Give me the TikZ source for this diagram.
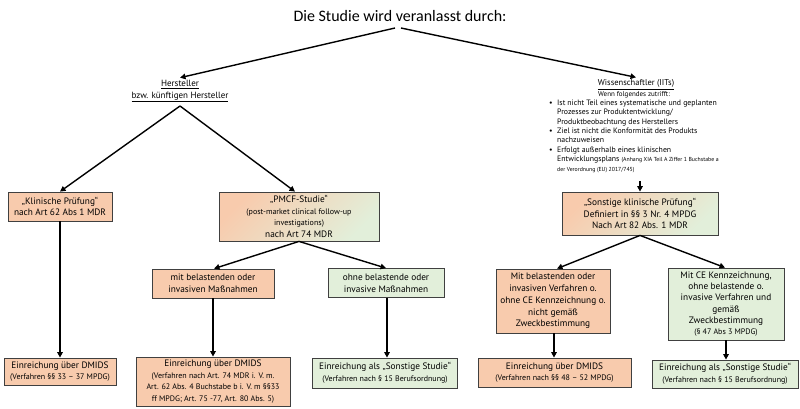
\documentclass[tikz,border=0pt]{standalone}
\usepackage{fontspec}
\setmainfont{PT Sans}
\newfontfamily\titlefont{Carlito}
\usetikzlibrary{arrows.meta,calc}
\definecolor{orF}{HTML}{F8CBAD}
\definecolor{grF}{HTML}{E2EFDA}
\definecolor{bdr}{HTML}{404040}
\newcommand\smtxt{\fontsize{8}{10.2}\selectfont}
\newcommand\smtxtb{\fontsize{8}{9.4}\selectfont}
\newcommand\tinytxt{\fontsize{5.8}{9.4}\selectfont}
\begin{document}
\begin{tikzpicture}[x=1pt,y=-1pt,
  box/.style={draw=bdr, line width=0.8pt, align=center, inner sep=0pt,
    font=\fontsize{9.3}{11.8}\selectfont},
  obox/.style={box, fill=orF},
  gbox/.style={box, fill=grF},
  mbox/.style={box, top color=orF, bottom color=grF, shading angle=45},
  arr/.style={line width=1.4pt, -{Triangle[length=5.5pt,width=5.5pt]}},
]
\useasboundingbox (0,0) rectangle (800,408);

% title
\node[font=\titlefont\fontsize{16}{19}\selectfont] (title) at (400,16) {Die Studie wird veranlasst durch:};
\coordinate (tl) at (395,28);
\coordinate (tr) at (401,28);

% Hersteller
\node[align=center, font=\fontsize{9}{12}\selectfont, inner sep=2pt] (hers) at (180,91)
  {\underline{Hersteller}\\\underline{bzw. künftigen Hersteller}};
\coordinate (hp) at (180,106);

% Wissenschaftler
\node[font=\fontsize{8.5}{10}\selectfont, inner sep=2pt] (wiss) at (636,84.5) {\underline{Wissenschaftler (IITs)}};
\node[font=\fontsize{7}{9}\selectfont, inner sep=0pt] (wenn) at (634,94.5) {Wenn folgendes zutrifft:};
\node[anchor=north west, inner sep=0pt, align=left, font=\fontsize{7.8}{9.4}\selectfont] (bul) at (549,99.5) {%
\makebox[8pt][l]{•}Ist nicht Teil eines systematische und geplanten\\
\makebox[8pt][l]{}Prozesses zur Produktentwicklung/\\
\makebox[8pt][l]{}Produktbeobachtung des Herstellers\\
\makebox[8pt][l]{•}Ziel ist nicht die Konformität des Produkts\\
\makebox[8pt][l]{}nachzuweisen\\
\makebox[8pt][l]{•}Erfolgt außerhalb eines klinischen\\
\makebox[8pt][l]{}Entwicklungsplans {\tinytxt(Anhang XIA Teil A Ziffer 1 Buchstabe a}\\
\makebox[8pt][l]{}{\tinytxt der Verordnung (EU) 2017/745)}};
\coordinate (wb) at (640,181);

% boxes
\node[obox, minimum width=104pt, minimum height=29pt] (klin) at (60,206.5)
  {„Klinische Prüfung“\\nach Art 62 Abs 1 MDR};
\node[mbox, minimum width=160pt, minimum height=49pt] (pmcf) at (299,216.5)
  {„PMCF-Studie“\\{\smtxt(post-market clinical follow-up}\\{\smtxt investigations)}\\nach Art 74 MDR};
\node[obox, minimum width=122pt, minimum height=29pt] (mitb) at (213,283.5)
  {mit belastenden oder\\invasiven Maßnahmen};
\node[gbox, minimum width=116pt, minimum height=29pt] (ohne) at (386,283)
  {ohne belastende oder\\invasive Maßnahmen};
\node[mbox, minimum width=156pt, minimum height=43pt] (sonst) at (640,213.5)
  {„Sonstige klinische Prüfung“\\Definiert in §§ 3 Nr. 4 MPDG\\Nach Art 82 Abs. 1 MDR};
\node[obox, minimum width=114pt, minimum height=64pt] (mitv) at (553,301)
  {Mit belastenden oder\\invasiven Verfahren o.\\ohne CE Kennzeichnung o.\\nicht gemäß\\Zweckbestimmung};
\node[gbox, minimum width=116pt, minimum height=72pt, font=\fontsize{9.3}{11.2}\selectfont] (ce) at (726,304)
  {Mit CE Kennzeichnung,\\ohne belastende o.\\invasive Verfahren und\\gemäß\\Zweckbestimmung\\{\smtxtb(§ 47 Abs 3 MPDG)}};

\node[obox, minimum width=112pt, minimum height=27pt] (e1) at (60,371.5)
  {Einreichung über DMIDS\\{\smtxt(Verfahren §§ 33 – 37 MPDG)}};
\node[obox, minimum width=154pt, minimum height=49pt] (e2) at (213,381.5)
  {Einreichung über DMIDS\\{\smtxt(Verfahren nach Art. 74 MDR i. V. m.}\\{\smtxt Art. 62 Abs. 4 Buchstabe b i. V. m §§33}\\{\smtxt ff MPDG; Art. 75 -77, Art. 80 Abs. 5)}};
\node[gbox, minimum width=145pt, minimum height=30pt] (e3) at (385,373)
  {Einreichung als „Sonstige Studie“\\{\smtxt(Verfahren nach § 15 Berufsordnung)}};
\node[obox, minimum width=153pt, minimum height=29pt] (e4) at (554.5,372.5)
  {Einreichung über DMIDS\\{\smtxt(Verfahren nach §§ 48 – 52 MPDG)}};
\node[gbox, minimum width=146pt, minimum height=28pt] (e5) at (725,374)
  {Einreichung als „Sonstige Studie“\\{\smtxt(Verfahren nach § 15 Berufsordnung)}};

% connectors
\draw[arr] (tl) -- (hers.north);
\draw[arr] (tr) -- (wiss.north);
\draw[arr] (hp) -- (klin.north);
\draw[arr] (hp) -- ($(pmcf.north)+(-4,0)$);
\draw[arr] (wb) -- (sonst.north);
\draw[arr] (pmcf.south) -- ($(mitb.north)+(1,0)$);
\draw[arr] (pmcf.south) -- (ohne.north);
\draw[arr] (sonst.south) -- ($(mitv.north)+(4,0)$);
\draw[arr] (sonst.south) -- ($(ce.north)+(-1,0)$);
\draw[arr] (klin.south) -- (klin.south |- e1.north);
\draw[arr] (mitb.south) -- (mitb.south |- e2.north);
\draw[arr] ($(ohne.south)+(1,0)$) -- ($(ohne.south |- e3.north)+(1,0)$);
\draw[arr] ($(mitv.south)+(1,0)$) -- ($(mitv.south |- e4.north)+(1,0)$);
\draw[arr] (ce.south) -- (ce.south |- e5.north);
\end{tikzpicture}
\end{document}
